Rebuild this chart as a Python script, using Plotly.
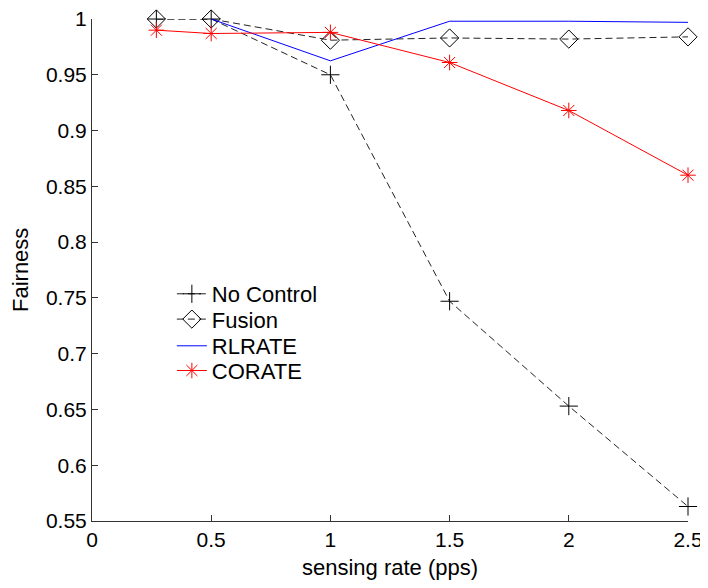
import plotly.graph_objects as go

x_nc = [0.27, 0.5, 1.0, 1.5, 2.0, 2.5]
y_nc = [1.0, 1.0, 0.950, 0.747, 0.653, 0.563]

x_fu = [0.27, 0.5, 1.0, 1.5, 2.0, 2.5]
y_fu = [1.0, 1.0, 0.981, 0.983, 0.982, 0.984]

x_rl = [0.5, 1.0, 1.5, 2.0, 2.5]
y_rl = [1.0, 0.9625, 0.998, 0.998, 0.997]

x_co = [0.27, 0.5, 1.0, 1.5, 2.0, 2.5]
y_co = [0.990, 0.987, 0.988, 0.961, 0.918, 0.860]

x_ticks = [0, 0.5, 1, 1.5, 2, 2.5]
x_ticktext = ["0", "0.5", "1", "1.5", "2", "2.5"]
y_ticks = [0.55, 0.6, 0.65, 0.7, 0.75, 0.8, 0.85, 0.9, 0.95, 1.0]
y_ticktext = ["0.55", "0.6", "0.65", "0.7", "0.75", "0.8", "0.85", "0.9", "0.95", "1"]

x_title = "sensing rate (pps)"
y_title = "Fairness"

FONT = "Liberation Sans, Arial, sans-serif"
DASH = "7px,4px"
BLACK = "#222222"

fig = go.Figure()
fig.add_trace(go.Scatter(
    x=x_nc, y=y_nc, name="No Control", mode="lines+markers", legend="legend",
    line=dict(color=BLACK, width=1, dash=DASH),
    marker=dict(symbol="cross-thin", size=13, line=dict(color="#000000", width=1)),
    cliponaxis=False))
fig.add_trace(go.Scatter(
    x=x_fu, y=y_fu, name="Fusion", mode="lines+markers", legend="legend2",
    line=dict(color=BLACK, width=1, dash=DASH),
    marker=dict(symbol="diamond-open", size=14, color="#000000", line=dict(color="#000000", width=1)),
    cliponaxis=False))
fig.add_trace(go.Scatter(
    x=x_rl, y=y_rl, name="RLRATE", mode="lines", legend="legend3",
    line=dict(color="#0000ff", width=1),
    cliponaxis=False))
fig.add_trace(go.Scatter(
    x=x_co, y=y_co, name="CORATE", mode="lines+markers", legend="legend4",
    line=dict(color="#ff0000", width=1),
    marker=dict(symbol="asterisk-open", size=13, color="#ff0000", line=dict(color="#ff0000", width=1)),
    cliponaxis=False))

def leg(yc):
    return dict(x=0.134, y=yc, xanchor="left", yanchor="middle",
                bgcolor="rgba(0,0,0,0)", borderwidth=0,
                font=dict(family=FONT, size=22, color="#000000"))

fig.update_layout(
    width=700, height=580,
    margin=dict(l=84, r=20, t=11, b=67, autoexpand=False),
    paper_bgcolor="white", plot_bgcolor="white",
    font=dict(family=FONT, size=21, color="#000000"),
    showlegend=True,
    legend=leg(0.4522),
    legend2=leg(0.4018),
    legend3=leg(0.3486),
    legend4=leg(0.2994),
    xaxis=dict(range=[0, 2.5], tickmode="array", tickvals=x_ticks, ticktext=x_ticktext,
               showgrid=False, zeroline=False, showline=True, linecolor="#333333", linewidth=1,
               ticks="inside", ticklen=6, tickcolor="#333333", mirror=False, automargin=False,
               ticklabeloverflow="allow", tickfont=dict(size=21)),
    yaxis=dict(range=[0.55, 1.0], tickmode="array", tickvals=y_ticks, ticktext=y_ticktext,
               showgrid=False, zeroline=False, showline=True, linecolor="#333333", linewidth=1,
               ticks="inside", ticklen=6, tickcolor="#333333", mirror=False, automargin=False,
               ticklabeloverflow="allow", tickfont=dict(size=21)),
    annotations=[
        dict(text=x_title, xref="paper", yref="paper", x=0.5, y=-0.0936,
             xanchor="center", yanchor="middle", showarrow=False,
             font=dict(family=FONT, size=22, color="#000000")),
        dict(text=y_title, xref="paper", yref="paper", x=-0.1208, y=0.5,
             xanchor="center", yanchor="middle", showarrow=False, textangle=-90,
             font=dict(family=FONT, size=22, color="#000000")),
    ],
)

fig.write_html("out.html")
